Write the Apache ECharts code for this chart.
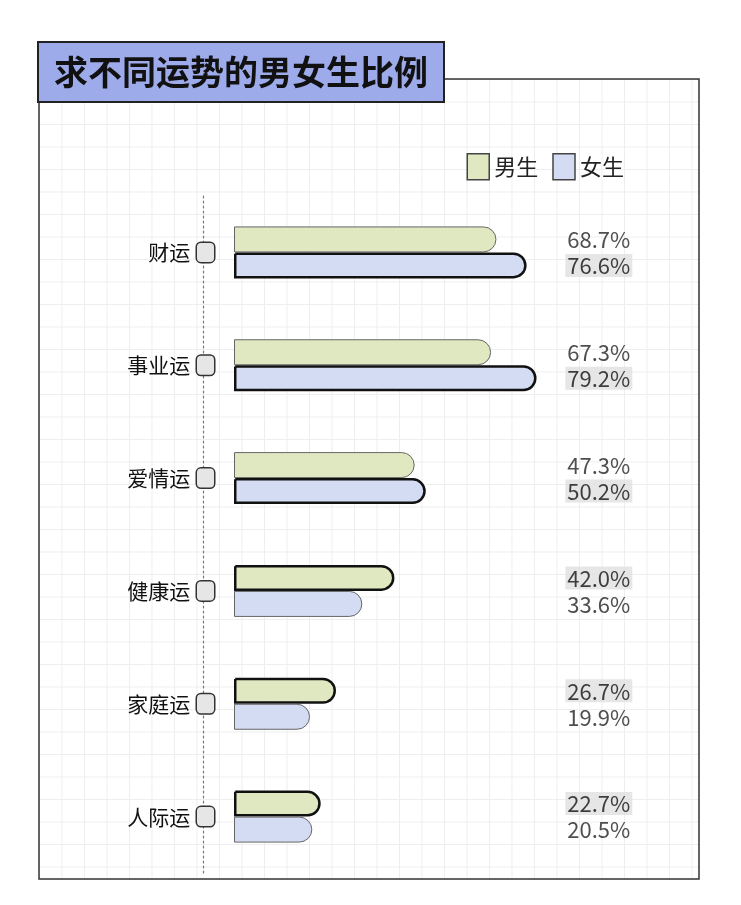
<!DOCTYPE html>
<html><head><meta charset="utf-8">
<script src="https://cdn.jsdelivr.net/npm/echarts@6/dist/echarts.min.js"></script>
<style>
html,body{margin:0;padding:0;background:#fff;}
#bg{position:absolute;left:39px;top:79px;width:660px;height:800px;
background-image:linear-gradient(#eeeeee 1px,transparent 1px),linear-gradient(90deg,#eeeeee 1px,transparent 1px);
background-size:22.5px 22.5px;}
#c{position:absolute;left:0;top:0;width:741px;height:905px;}
</style></head><body>
<div id="bg"></div><div id="c"></div>
<script>
const categories=['财运','事业运','爱情运','健康运','家庭运','人际运'];
const male=[68.7,67.3,47.3,42.0,26.7,22.7];
const female=[76.6,79.2,50.2,33.6,19.9,20.5];
const FONT='"Noto Sans CJK SC","Noto Sans",sans-serif';
const chart=echarts.init(document.getElementById('c'));
function items(a,b,color){
  return a.map((v,i)=>{const win=v>b[i];return {value:v,itemStyle:{color:color,borderColor:win?'#111':'#666',borderWidth:win?2.5:1,borderRadius:[0,13,13,0]}};});
}
function labelItems(a,b){
  return a.map((v,i)=>({value:[95.5,categories[i]],raw:v,win:v>b[i]}));
}
function lbl(dy){
  return {show:true,position:'inside',offset:[0,dy],fontFamily:FONT,fontSize:22,color:'#111',
    formatter:p=>p.data.win?'{w|'+p.data.raw.toFixed(1)+'%}':'{n|'+p.data.raw.toFixed(1)+'%}',
    rich:{w:{backgroundColor:'#e0e0e0',padding:[1,2,0,2],fontSize:22,fontFamily:FONT,color:'#111'},n:{fontSize:22,fontFamily:FONT,color:'#222',padding:[1,2,0,2]}}};
}
chart.setOption({
  animation:false,
  title:{text:'求不同运势的男女生比例',left:38,top:42,padding:[13,16,13,16],backgroundColor:'#9eabea',borderColor:'#222',borderWidth:2,
    textStyle:{fontFamily:FONT,fontSize:34,fontWeight:'bold',color:'#111'}},
  legend:{right:112,top:148,itemWidth:22,itemHeight:26,itemGap:14,icon:'rect',
    textStyle:{fontFamily:FONT,fontSize:22,color:'#222'},
    data:[{name:'男生',itemStyle:{color:'#dfe8c0',borderColor:'#444',borderWidth:1.5}},{name:'女生',itemStyle:{color:'#d3dcf2',borderColor:'#444',borderWidth:1.5}}]},
  graphic:[{type:'rect',z:-1,shape:{x:39,y:79,width:660,height:800},style:{fill:'none',stroke:'#333',lineWidth:1.5}}],
  grid:{left:234,top:196,width:382,height:677},
  xAxis:{type:'value',min:0,max:100,show:false},
  yAxis:[{type:'category',data:categories,inverse:true,axisLine:{show:false},axisTick:{show:false},
    axisLabel:{margin:20,formatter:v=>'{t|'+v+'}  {b|}',rich:{t:{fontFamily:FONT,fontSize:21,color:'#111'},
      b:{width:17,height:19,borderColor:'#333',borderWidth:1.5,borderRadius:4,backgroundColor:'#e6e6e6'}}}},
    {type:'category',data:categories,inverse:true,position:'left',offset:31,axisTick:{show:false},axisLabel:{show:false},
      axisLine:{show:true,lineStyle:{type:[2,3],color:'#777',width:1.2}}}],
  series:[
    {name:'男生',type:'bar',data:items(male,female,'#dfe8c0'),barWidth:26,barGap:'0%',itemStyle:{color:'#dfe8c0'}},
    {name:'女生',type:'bar',data:items(female,male,'#d3dcf2'),barWidth:26,barGap:'0%',itemStyle:{color:'#d3dcf2'}},
    {type:'scatter',symbolSize:0,data:labelItems(male,female),label:lbl(-13),silent:true},
    {type:'scatter',symbolSize:0,data:labelItems(female,male),label:lbl(13),silent:true}
  ]
});
</script></body></html>
